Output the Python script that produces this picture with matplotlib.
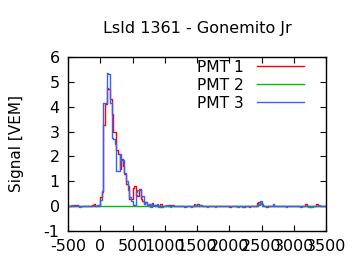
import matplotlib
matplotlib.use('Agg')
import matplotlib.pyplot as plt
import numpy as np

plt.rcParams['axes.unicode_minus'] = False

# bins of 25 ns from -500 to 3500
bin_width = 25
t_start = -500
t_stop = 3500

# pulse region, bins starting at t = 0
pulse_start = 0
pmt1_pulse = [0.35, 0.55, 3.25, 4.1, 4.75, 4.7, 4.3, 3.7, 3.0, 3.0,
              2.25, 2.1, 1.5, 1.9, 1.6, 1.3, 0.9, 0.8, 0.3, 0.3,
              0.75, 0.8, 0.45, 0.4, 0.7, 0.3, 0.2, 0.1, 0.15, 0.05]
pmt2_pulse = [0.0] * 30
pmt3_pulse = [0.25, 0.6, 4.15, 4.15, 5.35, 5.3, 4.15, 2.75, 2.7, 2.5,
              1.4, 1.4, 2.1, 1.85, 1.85, 1.35, 1.0, 0.65, 0.35, 0.2,
              0.05, 0.05, 0.55, 0.65, 0.65, 0.35, 0.4, 0.1, 0.15, 0.05]

# small baseline fluctuations (bin start time, value)
pmt1_noise = [(-400, 0.06), (-375, 0.05), (-125, 0.06), (-100, 0.07), (-25, 0.05),
              (750, 0.1), (800, 0.12), (850, 0.05), (875, 0.06), (925, 0.08),
              (1050, 0.06), (1100, 0.05), (1450, 0.07), (1500, 0.08), (2000, -0.05),
              (2225, -0.04), (2300, -0.04), (2425, 0.12), (2450, 0.15), (2475, 0.13),
              (2575, -0.04), (3175, 0.08), (3250, -0.04), (3350, 0.07)]
pmt2_noise = [(775, -0.05), (825, 0.06), (900, -0.05), (950, -0.04), (1075, -0.05),
              (1475, 0.05), (1775, -0.05), (2125, -0.05), (2450, 0.05), (2475, 0.07),
              (2500, 0.05), (3225, -0.05), (3275, -0.05)]
pmt3_noise = [(-450, 0.03), (-325, -0.04), (-50, 0.03), (775, 0.08), (825, 0.06),
              (875, 0.1), (925, -0.04), (1025, 0.06), (1125, 0.04), (1300, -0.04),
              (1400, -0.04), (1525, 0.06), (1550, 0.06), (1650, -0.04), (2200, -0.04),
              (2450, 0.08), (2475, 0.2), (2500, 0.1), (2675, 0.1), (2875, -0.04),
              (3100, -0.04), (3375, 0.06)]

edges = np.arange(t_start, t_stop + bin_width, bin_width)


def build(pulse, noise):
    y = np.zeros(len(edges) - 1)
    i0 = (pulse_start - t_start) // bin_width
    y[i0:i0 + len(pulse)] = pulse
    for t, v in noise:
        y[(t - t_start) // bin_width] = v
    return np.append(y, y[-1])


pmt1 = build(pmt1_pulse, pmt1_noise)
pmt2 = build(pmt2_pulse, pmt2_noise)
pmt3 = build(pmt3_pulse, pmt3_noise)

fig = plt.figure(figsize=(3.6, 2.7), dpi=100)
ax = fig.add_axes([68 / 360, 1 - 231 / 270, 258 / 360, 174 / 270])

ax.step(edges, pmt1, where='post', color='#ff0000', lw=1.0, label='PMT 1')
ax.step(edges, pmt2, where='post', color='#00c000', lw=1.0, label='PMT 2')
ax.step(edges, pmt3, where='post', color='#2f62ff', lw=1.0, label='PMT 3')

ax.set_xlim(-500, 3500)
ax.set_ylim(-1, 6)
ax.set_xticks(np.arange(-500, 3501, 500))
ax.set_yticks(np.arange(-1, 7, 1))
ax.tick_params(direction='in', top=True, right=True, length=4, width=0.8,
               labelsize=11.5, pad=6)
for s in ax.spines.values():
    s.set_linewidth(1.0)

ax.set_ylabel('Signal [VEM]', fontsize=11, labelpad=14)
ax.set_title('LsId 1361 - Gonemito Jr', fontsize=11.5, pad=17)

ax.legend(loc='upper right', bbox_to_anchor=(236 / 258, 0.985), frameon=False,
          markerfirst=False, fontsize=11.2, handlelength=3.0, handletextpad=0.9,
          labelspacing=0.2, borderaxespad=0, borderpad=0)

plt.savefig('out.png', dpi=100)
plt.close()
